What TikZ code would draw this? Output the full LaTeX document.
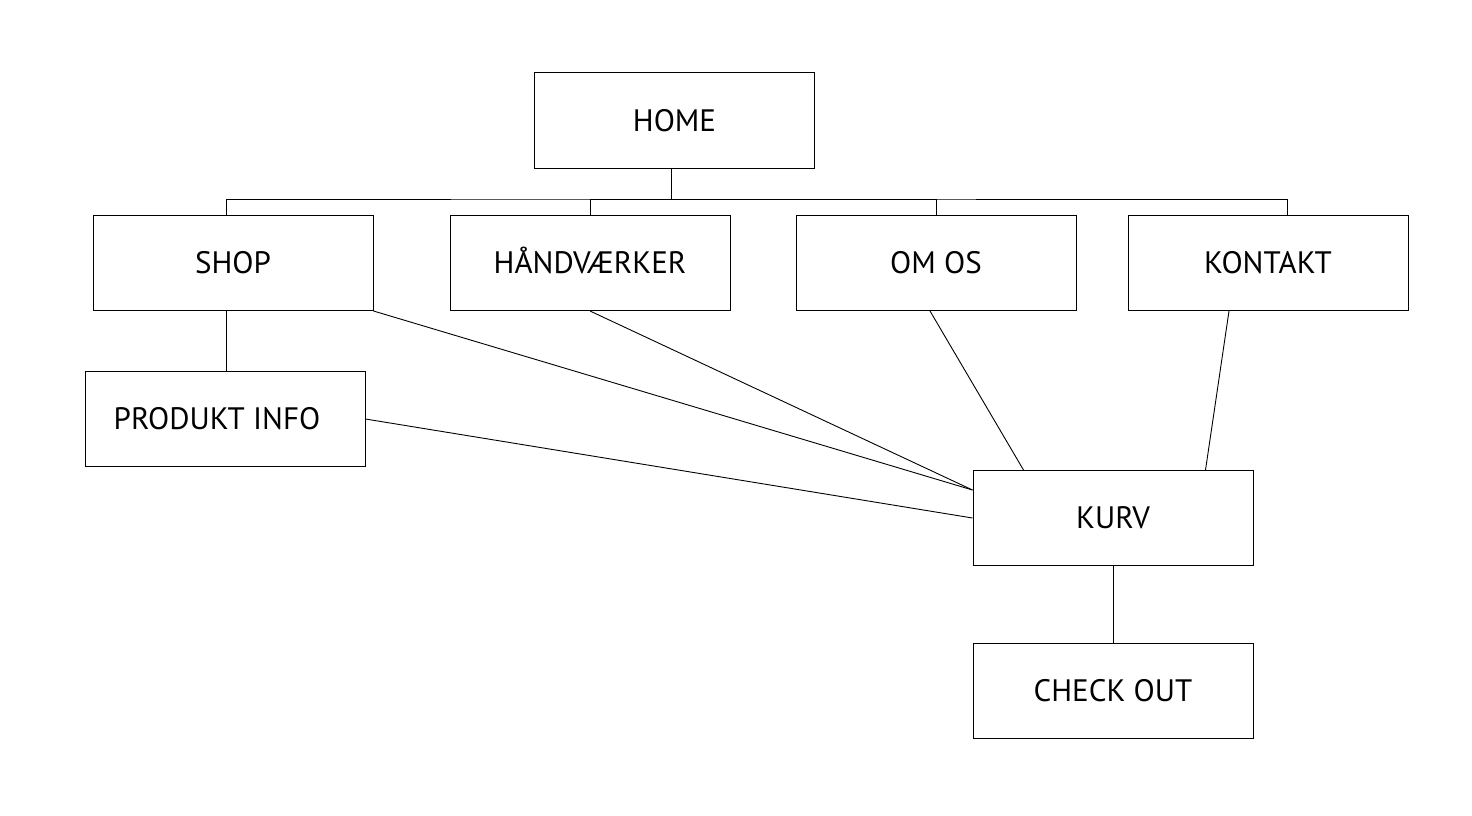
\documentclass[tikz,border=0pt]{standalone}
\usepackage{fontspec}
\setmainfont{PT Sans}
\begin{document}
\begin{tikzpicture}[x=1pt,y=-1pt,
  lbl/.style={font=\fontsize{31}{34}\selectfont,text height=21pt,text depth=0pt},
  box/.style={lbl,draw=black,line width=1pt,minimum width=280pt,minimum height=95pt,inner sep=0pt},
  link/.style={draw=black,line width=0.9pt}]
\useasboundingbox[fill=white] (0,0) rectangle (1472,816);
\node[box] (home) at (674.5,120.5) {HOME};
\node[box] (shop) at (233,263) {SHOP};
\node[box] (hand) at (590,263) {HÅNDVÆRKER};
\node[box] (omos) at (936,263) {OM OS};
\node[box] (kontakt) at (1268,263) {KONTAKT};
\node[box] (produkt) at (225,419) {};
\node[lbl] (produkttext) at (217,419) {PRODUKT INFO};
\node[box] (kurv) at (1113,518) {KURV};
\node[box] (checkout) at (1113,691) {CHECK OUT};
\coordinate (bus) at (671,199);
\draw[link] (home.south -| bus) -- (bus);
\draw[link] ([xshift=-7pt]shop.north) |- (bus) -| ([xshift=19pt]kontakt.north);
\draw[link] (bus) -| (hand.north);
\draw[link] (bus) -| (omos.north);
\draw[link] ([xshift=-7pt]shop.south) -- ([xshift=-7pt]shop.south |- produkt.north);
\draw[link] (shop.south east) -- ([yshift=-20pt]kurv.north west);
\draw[link] (hand.south) -- ([yshift=-20pt]kurv.north west);
\draw[link] ([xshift=-6pt]omos.south) -- ([xshift=51pt]kurv.north west);
\draw[link] ([xshift=-39pt]kontakt.south) -- ([xshift=-48pt]kurv.north east);
\draw[link] (produkt.east) -- (kurv.west);
\draw[link] (kurv.south) -- (checkout.north);
\end{tikzpicture}
\end{document}
